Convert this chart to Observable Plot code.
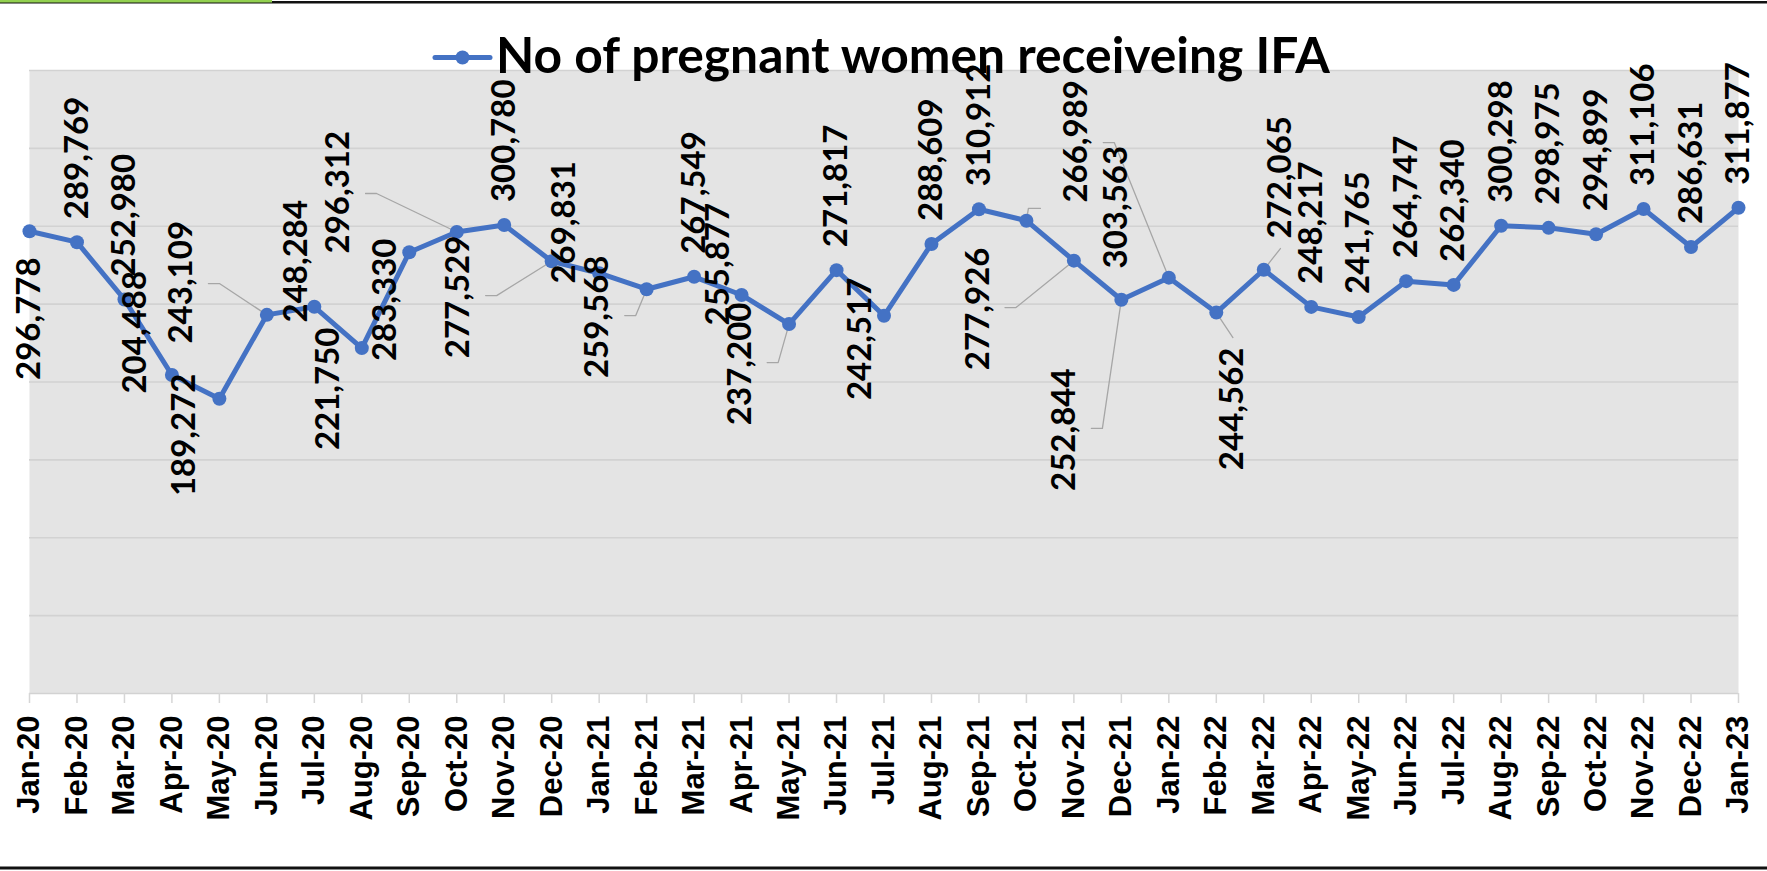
<!DOCTYPE html>
<html>
<head>
<meta charset="utf-8">
<script src="https://cdn.jsdelivr.net/npm/d3@7"></script>
<script src="https://cdn.jsdelivr.net/npm/@observablehq/plot@0.6"></script>
<style>
  html, body { margin: 0; padding: 0; background: #ffffff; }
  #wrap { position: relative; width: 1767px; height: 871px; overflow: hidden; }
  #overlay { position: absolute; left: 0; top: 0; pointer-events: none; }
</style>
</head>
<body>
<div id="wrap">
  <div id="chart"></div>
  <svg id="overlay" width="1767" height="871"></svg>
</div>
<script>
// ---------- data ----------
const months = ["Jan-20","Feb-20","Mar-20","Apr-20","May-20","Jun-20","Jul-20","Aug-20","Sep-20","Oct-20","Nov-20","Dec-20",
  "Jan-21","Feb-21","Mar-21","Apr-21","May-21","Jun-21","Jul-21","Aug-21","Sep-21","Oct-21","Nov-21","Dec-21",
  "Jan-22","Feb-22","Mar-22","Apr-22","May-22","Jun-22","Jul-22","Aug-22","Sep-22","Oct-22","Nov-22","Dec-22","Jan-23"];
const values = [296778,289769,252980,204488,189272,243109,248284,221750,283330,296312,300780,277529,
  269831,259568,267549,255877,237200,271817,242517,288609,310912,303563,277926,252844,
  266989,244562,272065,248217,241765,264747,262340,300298,298975,294899,311106,286631,311877];
const seriesName = "No of pregnant women receiveing IFA";
const yTicks = [0, 50000, 100000, 150000, 200000, 250000, 300000, 350000, 400000];

// data-label layout as in the source (Excel moved several labels)
const labelSide = ["below","above","above","above","below","above","above","below","below","above","above","below",
  "above","below","above","above","below","above","below","above","above","above","below","below",
  "above","below","above","above","above","above","above","above","above","above","above","above","above"];
const labelShiftMonths = [0,0,0,-0.77,-0.73,-1.8,-0.37,-0.7,-0.5,-2.49,0,-1.96,
  -0.74,-1.03,0,-0.48,-1.03,0,-0.5,0,0,1.9,-2.02,-1.2,
  -1.95,0.35,0.35,0,0,0,0,0,0,0,0,0,0];
const labelAnchorValue = [280000,null,null,192600,205450,224700,238200,235000,292100,282500,null,294000,
  263200,281200,null,236300,251000,null,267100,null,null,272900,286300,208700,
  315200,222100,292100,null,null,null,null,null,null,null,null,null,null];
const leaderMonths = ["Jun-20","Oct-20","Dec-20","Feb-21","May-21","Oct-21","Nov-21","Dec-21","Jan-22","Feb-22","Mar-22"];

// ---------- layout ----------
const W = 1767, H = 871, ML = 29, MR = 29, MT = 70, MB = 178;
const Y_MAX = 400000;
const pxM = (W - ML - MR) / (months.length - 1);
const pxV = (H - MT - MB) / Y_MAX;
const BLUE = "#4472C4";
const LABEL_FONT = "Lato, 'Open Sans', sans-serif";
const LABEL_SIZE = 33;
const gapV = 23 / pxV;
const halfLenV = 60 / pxV;

const data = months.map((m, i) => ({i, month: m, value: values[i]}));
const labels = data.map(d => {
  const side = labelSide[d.i];
  const a = labelAnchorValue[d.i];
  const anchor = a != null ? a : (side === "above" ? d.value + gapV : d.value - gapV);
  return {...d, side, lx: d.i + labelShiftMonths[d.i], anchor, text: d3.format(",")(d.value)};
});

const leaderPts = [];
labels.filter(l => leaderMonths.includes(l.month)).forEach(l => {
  const shift = l.lx - l.i;
  const ym = l.side === "above" ? l.anchor + halfLenV : l.anchor - halfLenV;
  let pts;
  if (Math.abs(shift) < 0.5) {
    const endY = l.side === "above" ? l.anchor - 10 / pxV : l.anchor + 10 / pxV;
    pts = [[l.i, l.value], [l.lx, endY]];
  } else if (shift > 0) {
    pts = [[l.i, l.value], [l.i + 2 / pxM, ym], [l.i + 14 / pxM, ym]];
  } else {
    pts = [[l.lx + 27 / pxM, ym], [l.lx + 38 / pxM, ym], [l.i, l.value]];
  }
  pts.forEach(p => leaderPts.push({key: l.month, x: p[0], y: p[1]}));
});

const textOpts = {
  x: "lx", y: "anchor", text: "text", rotate: -90,
  fontSize: LABEL_SIZE, fontWeight: "bold", fontFamily: LABEL_FONT, fill: "#000"
};

const chart = Plot.plot({
  width: W, height: H,
  marginLeft: ML, marginRight: MR, marginTop: MT, marginBottom: MB,
  style: {background: "transparent", overflow: "visible"},
  x: {type: "linear", domain: [0, months.length - 1]},
  y: {domain: [0, Y_MAX], axis: null},
  marks: [
    Plot.frame({fill: "#e4e4e4", stroke: null}),
    Plot.gridY(yTicks, {stroke: "#d2d2d2", strokeOpacity: 1, strokeWidth: 1.6}),
    Plot.axisX(d3.range(months.length), {
      tickFormat: i => months[i], tickRotate: -90, tickSize: 10, tickPadding: 12,
      fontSize: 31, fontWeight: "bold", fontFamily: "'Liberation Sans', Arial, sans-serif",
      stroke: "#d6d6d6", strokeWidth: 1.5, fill: "#000", label: null
    }),
    Plot.line(leaderPts, {x: "x", y: "y", z: "key", stroke: "#a6a6a6", strokeWidth: 1.3, curve: "linear"}),
    Plot.line(data, {x: "i", y: "value", stroke: BLUE, strokeWidth: 5, strokeLinejoin: "round"}),
    Plot.dot(data, {x: "i", y: "value", r: 7, fill: BLUE, stroke: null}),
    Plot.text(labels.filter(l => l.side === "above"), {...textOpts, textAnchor: "start"}),
    Plot.text(labels.filter(l => l.side === "below"), {...textOpts, textAnchor: "end"})
  ]
});
document.getElementById("chart").appendChild(chart);

// ---------- title / legend & page rules ----------
const ov = d3.select("#overlay");
ov.append("rect").attr("x", 0).attr("y", 1).attr("width", W).attr("height", 2.5).attr("fill", "#111");
ov.append("rect").attr("x", 0).attr("y", 0).attr("width", 272).attr("height", 2.5).attr("fill", "#92D050");
ov.append("rect").attr("x", 0).attr("y", 866.5).attr("width", W).attr("height", 3).attr("fill", "#111");
const lg = ov.append("g");
lg.append("line").attr("x1", 435).attr("x2", 490).attr("y1", 57.5).attr("y2", 57.5)
  .attr("stroke", BLUE).attr("stroke-width", 5).attr("stroke-linecap", "round");
lg.append("circle").attr("cx", 462.5).attr("cy", 57.5).attr("r", 7).attr("fill", BLUE);
const t = lg.append("text").attr("x", 496).attr("y", 73)
  .attr("font-family", LABEL_FONT).attr("font-weight", "bold").attr("font-size", 46)
  .attr("fill", "#000").text(seriesName);
const len = t.node().getComputedTextLength();
if (len > 0) t.attr("font-size", 46 * 834 / len);
</script>
</body>
</html>
